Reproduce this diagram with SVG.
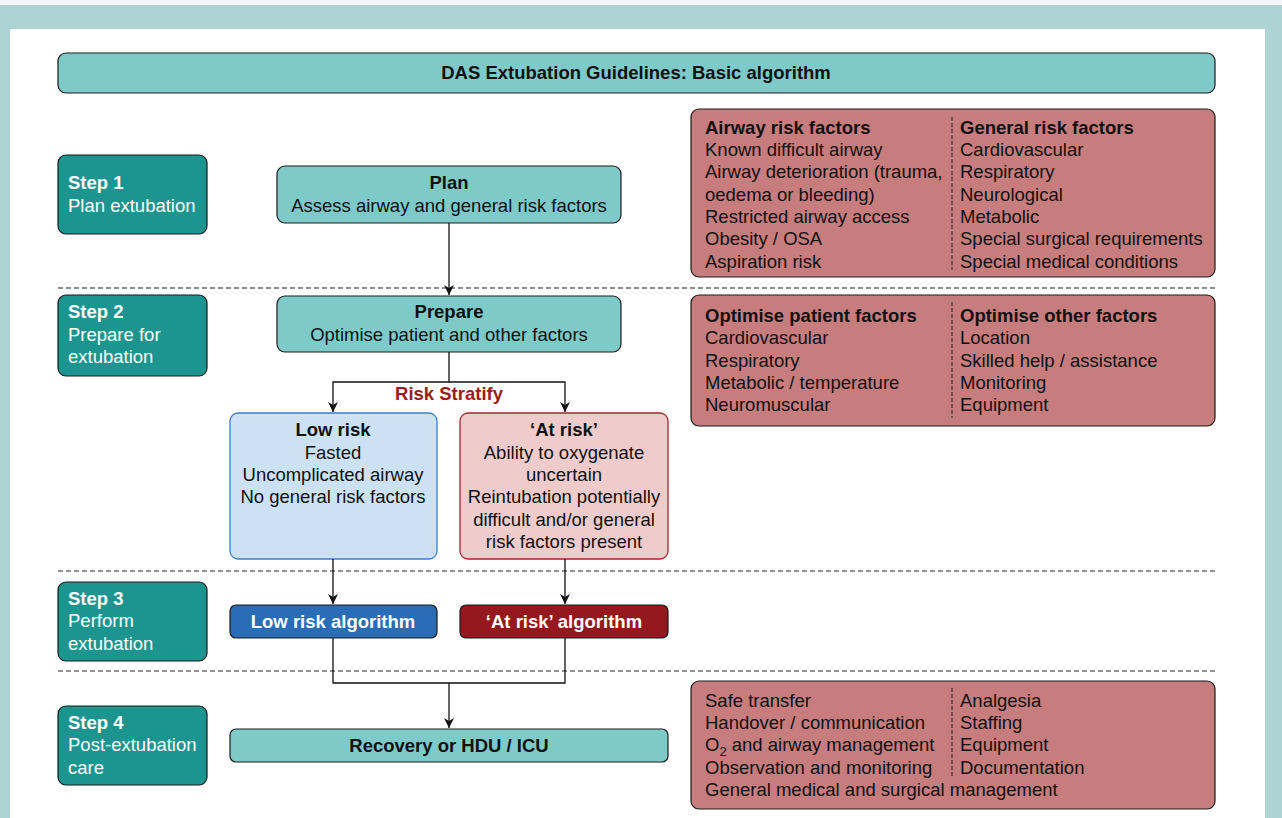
<svg xmlns="http://www.w3.org/2000/svg" width="1282" height="818" viewBox="0 0 1282 818">
<defs>
<marker id="arr" viewBox="0 0 10 10" refX="10" refY="5" markerWidth="10" markerHeight="10" markerUnits="userSpaceOnUse" orient="auto">
<path d="M0,0 L10,5 L0,10 L3,5 Z" fill="#111"/>
</marker>
<style>
text{font-family:"Liberation Sans",Arial,sans-serif;font-size:18.5px;fill:#111}
.b{font-weight:bold}
.w{fill:#fff}
.c{text-anchor:middle}
.step{fill:#1c9490;stroke:#1a1a1a;stroke-width:1.2}
.teal{fill:#7ecac9;stroke:#1a1a1a;stroke-width:1.2}
.risk{fill:#c77d7d;stroke:#1a1a1a;stroke-width:1.2}
.sep{stroke:#222;stroke-width:1;stroke-dasharray:5,3;fill:none}
.div{stroke:#222;stroke-width:1;stroke-dasharray:4,2;fill:none}
.con{stroke:#111;stroke-width:1.3;fill:none}
</style>
</defs>
<rect x="0" y="0" width="1282" height="818" fill="#add4d2"/>
<rect x="0" y="0" width="1282" height="5" fill="#f4f8f8"/>
<rect x="10" y="29" width="1255" height="789" fill="#ffffff"/>

<g id="title">
<rect class="teal" x="58" y="53" width="1157" height="40" rx="8"/>
<text class="b c" x="636" y="79">DAS Extubation Guidelines: Basic algorithm</text>
</g>

<g id="separators">
<line class="sep" x1="58" y1="288" x2="1215" y2="288"/>
<line class="sep" x1="58" y1="571" x2="1215" y2="571"/>
<line class="sep" x1="58" y1="671" x2="1215" y2="671"/>
</g>

<g id="step1">
<rect class="step" x="58" y="155" width="149" height="79" rx="8"/>
<text class="b w" x="68" y="189">Step 1</text>
<text class="w" x="68" y="212">Plan extubation</text>
</g>
<g id="step2">
<rect class="step" x="58" y="295" width="149" height="81" rx="8"/>
<text class="b w" x="68" y="318">Step 2</text>
<text class="w" x="68" y="341">Prepare for</text>
<text class="w" x="68" y="363">extubation</text>
</g>
<g id="step3">
<rect class="step" x="58" y="582" width="149" height="79" rx="8"/>
<text class="b w" x="68" y="605">Step 3</text>
<text class="w" x="68" y="627">Perform</text>
<text class="w" x="68" y="650">extubation</text>
</g>
<g id="step4">
<rect class="step" x="58" y="706" width="149" height="79" rx="8"/>
<text class="b w" x="68" y="729">Step 4</text>
<text class="w" x="68" y="751">Post-extubation</text>
<text class="w" x="68" y="774">care</text>
</g>

<g id="plan">
<rect class="teal" x="277" y="166" width="344" height="57" rx="8"/>
<text class="b c" x="449" y="189">Plan</text>
<text class="c" x="449" y="212">Assess airway and general risk factors</text>
</g>
<g id="prepare">
<rect class="teal" x="277" y="296" width="344" height="56" rx="8"/>
<text class="b c" x="449" y="318">Prepare</text>
<text class="c" x="449" y="341">Optimise patient and other factors</text>
</g>

<g id="lowrisk">
<rect x="230" y="413" width="207" height="146" rx="8" fill="#cce2f4" stroke="#3a7fc6" stroke-width="1.3"/>
<text class="b c" x="333" y="436">Low risk</text>
<text class="c" x="333" y="459">Fasted</text>
<text class="c" x="333" y="481">Uncomplicated airway</text>
<text class="c" x="333" y="503">No general risk factors</text>
</g>
<g id="atrisk">
<rect x="460" y="413" width="208" height="146" rx="8" fill="#efcccb" stroke="#a3282c" stroke-width="1.3"/>
<text class="b c" x="564" y="436">‘At risk’</text>
<text class="c" x="564" y="459">Ability to oxygenate</text>
<text class="c" x="564" y="481">uncertain</text>
<text class="c" x="564" y="503">Reintubation potentially</text>
<text class="c" x="564" y="526">difficult and/or general</text>
<text class="c" x="564" y="548">risk factors present</text>
</g>

<g id="lowalgo">
<rect x="230" y="605" width="207" height="33" rx="6" fill="#2a6cb6" stroke="#1a1a1a" stroke-width="1.2"/>
<text class="b c w" x="333" y="628">Low risk algorithm</text>
</g>
<g id="atalgo">
<rect x="460" y="605" width="208" height="33" rx="6" fill="#94181d" stroke="#1a1a1a" stroke-width="1.2"/>
<text class="b c w" x="564" y="628">‘At risk’ algorithm</text>
</g>
<g id="recovery">
<rect class="teal" x="230" y="729" width="438" height="33" rx="6"/>
<text class="b c" x="449" y="752">Recovery or HDU / ICU</text>
</g>

<g id="riskfactors">
<rect class="risk" x="691" y="109" width="524" height="168" rx="8"/>
<line class="div" x1="952" y1="117" x2="952" y2="270"/>
<text class="b" x="705" y="134">Airway risk factors</text>
<text x="705" y="156">Known difficult airway</text>
<text x="705" y="178">Airway deterioration (trauma,</text>
<text x="705" y="201">oedema or bleeding)</text>
<text x="705" y="223">Restricted airway access</text>
<text x="705" y="245">Obesity / OSA</text>
<text x="705" y="268">Aspiration risk</text>
<text class="b" x="960" y="134">General risk factors</text>
<text x="960" y="156">Cardiovascular</text>
<text x="960" y="178">Respiratory</text>
<text x="960" y="201">Neurological</text>
<text x="960" y="223">Metabolic</text>
<text x="960" y="245">Special surgical requirements</text>
<text x="960" y="268">Special medical conditions</text>
</g>

<g id="optimise">
<rect class="risk" x="691" y="295" width="524" height="131" rx="8"/>
<line class="div" x1="952" y1="302" x2="952" y2="418"/>
<text class="b" x="705" y="322">Optimise patient factors</text>
<text x="705" y="344">Cardiovascular</text>
<text x="705" y="367">Respiratory</text>
<text x="705" y="389">Metabolic / temperature</text>
<text x="705" y="411">Neuromuscular</text>
<text class="b" x="960" y="322">Optimise other factors</text>
<text x="960" y="344">Location</text>
<text x="960" y="367">Skilled help / assistance</text>
<text x="960" y="389">Monitoring</text>
<text x="960" y="411">Equipment</text>
</g>

<g id="postcare">
<rect class="risk" x="691" y="681" width="524" height="128" rx="8"/>
<line class="div" x1="952" y1="688" x2="952" y2="776"/>
<text x="705" y="707">Safe transfer</text>
<text x="705" y="729">Handover / communication</text>
<text x="705" y="751">O<tspan dy="5" style="font-size:13px">2</tspan><tspan dy="-5"> and airway management</tspan></text>
<text x="705" y="774">Observation and monitoring</text>
<text x="705" y="796">General medical and surgical management</text>
<text x="960" y="707">Analgesia</text>
<text x="960" y="729">Staffing</text>
<text x="960" y="751">Equipment</text>
<text x="960" y="774">Documentation</text>
</g>

<g id="connectors">
<line class="con" x1="449" y1="223" x2="449" y2="295" marker-end="url(#arr)"/>
<polyline class="con" points="449,352 449,382 333,382 333,412" marker-end="url(#arr)"/>
<polyline class="con" points="449,382 565,382 565,412" marker-end="url(#arr)"/>
<text class="b c" x="449" y="400" style="fill:#9b1c20">Risk Stratify</text>
<line class="con" x1="333" y1="559" x2="333" y2="604" marker-end="url(#arr)"/>
<line class="con" x1="565" y1="559" x2="565" y2="604" marker-end="url(#arr)"/>
<polyline class="con" points="333,638 333,683 565,683 565,638"/>
<line class="con" x1="449" y1="683" x2="449" y2="728" marker-end="url(#arr)"/>
</g>
</svg>
